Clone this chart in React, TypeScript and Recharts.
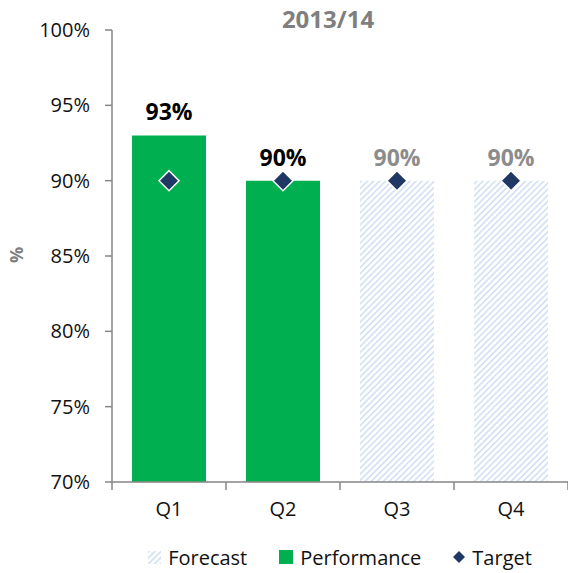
import React from 'react';
import { ComposedChart, Bar, Line, XAxis, YAxis, LabelList, Legend } from 'recharts';

const quarters = ['Q1', 'Q2', 'Q3', 'Q4'];
const performance = [93, 90, null, null];
const forecast = [null, null, 90, 90];
const target = [90, 90, 90, 90];
const yTicks = [70, 75, 80, 85, 90, 95, 100];

const FONT = '"Open Sans", "Noto Sans", sans-serif';
const GREEN = '#00b050';
const NAVY = '#1f3864';
const AXIS = '#868686';
const HATCH = '#d2e0f3';

const W = 568;
const H = 573;
const PLOT_LEFT = 112;
const BAND = (W - PLOT_LEFT) / quarters.length;

const data = quarters.map((q, i) => ({
  quarter: q,
  performance: performance[i],
  forecast: forecast[i],
  target: target[i],
}));

const pct = (v: any) => (v == null ? '' : `${v}%`);

const QuarterTick = (props: any) => {
  const { x, y, payload, index } = props;
  const half = BAND / 2;
  return (
    <g>
      <line x1={x - half} x2={x - half} y1={y} y2={y + 8} stroke={AXIS} strokeWidth={1.5} />
      {index === quarters.length - 1 && (
        <line x1={x + half} x2={x + half} y1={y} y2={y + 8} stroke={AXIS} strokeWidth={1.5} />
      )}
      <text x={x} y={y + 34} textAnchor="middle" fontFamily={FONT} fontSize={20} fill="#111">
        {payload.value}
      </text>
    </g>
  );
};

const Diamond = (props: any) => {
  const { cx, cy, index } = props;
  if (cx == null || cy == null) return <g key={`d-${index}`} />;
  const r = 10;
  return (
    <polygon
      key={`d-${index}`}
      points={`${cx},${cy - r} ${cx + r},${cy} ${cx},${cy + r} ${cx - r},${cy}`}
      fill={NAVY}
      stroke="#ffffff"
      strokeWidth={1.5}
    />
  );
};

const legendIcon = (name: string) => {
  if (name === 'Forecast') {
    return (
      <svg width={13} height={13}>
        <rect width={13} height={13} fill="url(#hatch)" />
      </svg>
    );
  }
  if (name === 'Performance') {
    return (
      <svg width={14} height={14}>
        <rect width={14} height={14} fill={GREEN} />
      </svg>
    );
  }
  return (
    <svg width={12} height={12}>
      <polygon points="6,0 12,6 6,12 0,6" fill={NAVY} />
    </svg>
  );
};

const renderLegend = (props: any) => {
  const items = (props.payload || []).map((p: any) => String(p.value));
  return (
    <div
      style={{
        display: 'flex',
        justifyContent: 'center',
        alignItems: 'center',
        gap: 32,
        fontFamily: FONT,
        fontSize: 20,
        color: '#111',
        height: 28,
      }}
    >
      {items.map((name: string) => (
        <div key={name} style={{ display: 'flex', alignItems: 'center', gap: 7 }}>
          {legendIcon(name)}
          <span>{name}</span>
        </div>
      ))}
    </div>
  );
};

export default function App() {
  return (
    <div style={{ position: 'absolute', left: 0, top: 0, width: W, height: H, background: '#fff' }}>
      <div
        style={{
          position: 'absolute',
          left: 228,
          width: 200,
          top: 2,
          textAlign: 'center',
          fontFamily: FONT,
          fontWeight: 700,
          fontSize: 24,
          color: '#7f7f7f',
        }}
      >
        2013/14
      </div>
      <ComposedChart
        width={W}
        height={H}
        data={data}
        margin={{ top: 30, right: 0, bottom: 23, left: 0 }}
        barGap={-74}
      >
        <defs>
          <pattern id="hatch" width={4.3} height={4.3} patternUnits="userSpaceOnUse" patternTransform="rotate(45)">
            <rect width={4.3} height={4.3} fill="#ffffff" />
            <rect width={1.6} height={4.3} fill={HATCH} />
          </pattern>
        </defs>
        <XAxis
          dataKey="quarter"
          height={40}
          tickSize={0}
          tickMargin={0}
          tickLine={false}
          axisLine={{ stroke: AXIS, strokeWidth: 1.5 }}
          tick={<QuarterTick />}
          interval={0}
        />
        <YAxis
          width={PLOT_LEFT}
          domain={[70, 100]}
          ticks={yTicks}
          allowDataOverflow
          tickFormatter={(v) => `${v}%`}
          tickSize={7}
          tickMargin={15}
          axisLine={{ stroke: AXIS, strokeWidth: 1.5 }}
          tickLine={{ stroke: AXIS, strokeWidth: 1.5 }}
          tick={{ fontFamily: FONT, fontSize: 20, fill: '#111' }}
          label={{
            content: () => (
              <text
                x={16}
                y={255}
                transform="rotate(-90 16 255)"
                textAnchor="middle"
                dominantBaseline="central"
                fontFamily={FONT}
                fontWeight={700}
                fontSize={18}
                fill="#7f7f7f"
              >
                %
              </text>
            ),
          }}
        />
        <Legend
          content={renderLegend}
          wrapperStyle={{ left: PLOT_LEFT, width: W - PLOT_LEFT, top: 543, height: 28 }}
        />
        <Bar dataKey="forecast" name="Forecast" fill="url(#hatch)" barSize={74} isAnimationActive={false}>
          <LabelList
            dataKey="forecast"
            position="top"
            offset={15}
            formatter={pct}
            fill="#8c8c8c"
            fontFamily={FONT}
            fontWeight={700}
            fontSize={23}
          />
        </Bar>
        <Bar dataKey="performance" name="Performance" fill={GREEN} barSize={74} isAnimationActive={false}>
          <LabelList
            dataKey="performance"
            position="top"
            offset={15}
            formatter={pct}
            fill="#000000"
            fontFamily={FONT}
            fontWeight={700}
            fontSize={23}
          />
        </Bar>
        <Line
          dataKey="target"
          name="Target"
          stroke="none"
          dot={<Diamond />}
          activeDot={false}
          legendType="diamond"
          isAnimationActive={false}
        />
      </ComposedChart>
    </div>
  );
}
